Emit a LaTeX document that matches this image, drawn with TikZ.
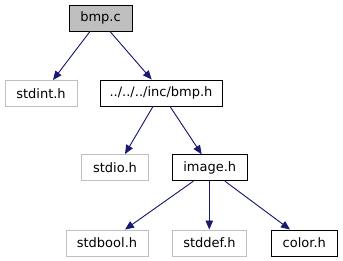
\documentclass[tikz,border=0pt]{standalone}
\usepackage{fontspec}
\setmainfont{DejaVu Sans}
\usetikzlibrary{arrows.meta}
\definecolor{edgeblue}{HTML}{191970}
\definecolor{extgray}{HTML}{BFBFBF}
\tikzset{
  file/.style={draw=black, line width=0.9pt, inner sep=0pt, font=\fontsize{13}{15}\selectfont, minimum height=26pt},
  extfile/.style={file, draw=extgray},
  mainfile/.style={file, fill=extgray},
  dep/.style={draw=edgeblue, line width=0.9pt, -{Triangle[length=9pt,width=7.5pt]}, fill=edgeblue},
}
\begin{document}
\begin{tikzpicture}[x=1pt,y=-1pt]
  \useasboundingbox (0,0) rectangle (343,261);
  % files
  \node[mainfile, minimum width=63pt] (bmpc) at (100.5,18) {bmp.c};
  \node[extfile, minimum width=72pt] (stdint) at (41,93.5) {stdint.h};
  \node[file, minimum width=122pt] (bmph) at (161,93) {../../../inc/bmp.h};
  \node[extfile, minimum width=67pt] (stdio) at (115,167.5) {stdio.h};
  \node[file, minimum width=75pt] (image) at (209.7,167.8) {image.h};
  \node[extfile, minimum width=82pt] (stdbool) at (107,243) {stdbool.h};
  \node[extfile, minimum width=74pt] (stddef) at (209.5,243) {stddef.h};
  \node[file, minimum width=66pt] (color) at (304.3,243) {color.h};
  % include edges
  \draw[dep] ([xshift=-10.5pt]bmpc.south) -- ([xshift=12pt]stdint.north);
  \draw[dep] ([xshift=9.5pt]bmpc.south) -- ([xshift=-9.3pt]bmph.north);
  \draw[dep] ([xshift=-8pt]bmph.south) -- ([xshift=10pt]stdio.north);
  \draw[dep] ([xshift=9pt]bmph.south) -- ([xshift=-8pt]image.north);
  \draw[dep] ([xshift=-16.4pt]image.south) -- ([xshift=18pt]stdbool.north);
  \draw[dep] ([xshift=-0.4pt]image.south) -- ([xshift=-0.2pt]stddef.north);
  \draw[dep] ([xshift=15.3pt]image.south) -- ([xshift=-14.3pt]color.north);
\end{tikzpicture}
\end{document}
